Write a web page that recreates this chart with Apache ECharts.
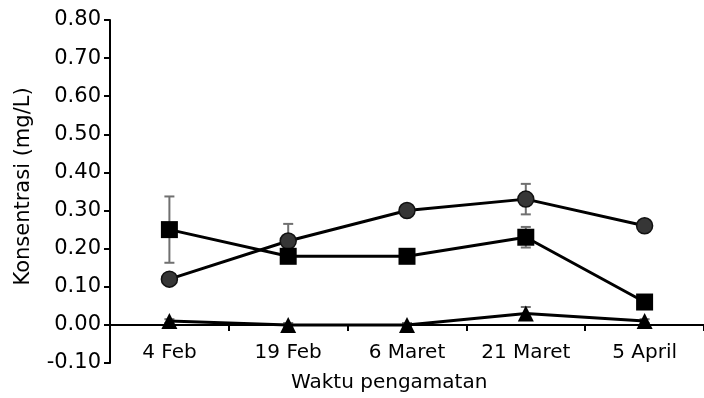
<!DOCTYPE html>
<html>
<head>
<meta charset="utf-8">
<script src="https://cdn.jsdelivr.net/npm/echarts@6/dist/echarts.min.js"></script>
<style>
  html, body { margin: 0; padding: 0; background: #fff; }
  #chart { width: 704px; height: 398px; }
</style>
</head>
<body>
<div id="chart"></div>
<script>
// Sampling dates
const categories = ['4 Feb', '19 Feb', '6 Maret', '21 Maret', '5 April'];

// Mean concentrations (mg/L)
const circleValues   = [0.12, 0.22, 0.30, 0.33, 0.26];
const squareValues   = [0.25, 0.18, 0.18, 0.23, 0.06];
const triangleValues = [0.01, 0.00, 0.00, 0.03, 0.01];

// Standard deviations for the error bars
const circleErr   = [0.01, 0.045, 0.01, 0.04, 0.01];
const squareErr   = [0.087, 0.01, 0.01, 0.027, 0.01];
const triangleErr = [0.005, 0.005, 0.005, 0.017, 0.005];

// Y axis ticks
const yMin = -0.10, yMax = 0.80, yStep = 0.10;

const FONT = 'DejaVu Sans';
const GRID_TOP = 20, GRID_BOTTOM = 35, HEIGHT = 398;

// Place the category axis on the zero line of the value axis
const plotH = HEIGHT - GRID_TOP - GRID_BOTTOM;
const zeroOffset = -plotH * (0 - yMin) / (yMax - yMin);

function errorData(vals, errs) {
  return vals.map((v, i) => [i, v - errs[i], v + errs[i]]);
}

function errorSeries(vals, errs) {
  return {
    type: 'custom',
    z: 1,
    silent: true,
    data: errorData(vals, errs),
    renderItem: function (params, api) {
      const x = api.value(0);
      const lo = api.coord([x, api.value(1)]);
      const hi = api.coord([x, api.value(2)]);
      const w = 5;
      const style = { stroke: '#707070', lineWidth: 2 };
      return {
        type: 'group',
        children: [
          { type: 'line', shape: { x1: lo[0], y1: lo[1], x2: hi[0], y2: hi[1] }, style },
          { type: 'line', shape: { x1: hi[0] - w, y1: hi[1], x2: hi[0] + w, y2: hi[1] }, style },
          { type: 'line', shape: { x1: lo[0] - w, y1: lo[1], x2: lo[0] + w, y2: lo[1] }, style }
        ]
      };
    }
  };
}

function lineSeries(vals, symbol, size, itemStyle) {
  return {
    type: 'line',
    z: 3,
    data: vals,
    symbol: symbol,
    symbolSize: size,
    showAllSymbol: true,
    lineStyle: { color: '#000', width: 3 },
    itemStyle: itemStyle,
    emphasis: { disabled: true }
  };
}

const chart = echarts.init(document.getElementById('chart'), null, { renderer: 'canvas' });
chart.setOption({
  animation: false,
  backgroundColor: '#fff',
  grid: { left: 110, top: GRID_TOP, width: 602, bottom: GRID_BOTTOM, containLabel: false },
  xAxis: {
    type: 'category',
    data: categories,
    boundaryGap: true,
    offset: zeroOffset,
    axisLine: { onZero: false, lineStyle: { color: '#000', width: 2 } },
    axisTick: { show: true, inside: false, length: 6, lineStyle: { color: '#000', width: 2 } },
    axisLabel: { color: '#000', fontFamily: FONT, fontSize: 20, margin: 18 },
    splitLine: { show: false }
  },
  yAxis: {
    type: 'value',
    min: yMin,
    max: yMax,
    interval: yStep,
    name: 'Konsentrasi (mg/L)',
    nameLocation: 'middle',
    nameGap: 76,
    nameTextStyle: { color: '#000', fontFamily: FONT, fontSize: 21, padding: [0, 0, 0, 10] },
    axisLine: { show: true, lineStyle: { color: '#000', width: 2 } },
    axisTick: { show: true, inside: false, length: 6, lineStyle: { color: '#000', width: 2 } },
    axisLabel: {
      color: '#000', fontFamily: FONT, fontSize: 21, margin: 9,
      formatter: v => v.toFixed(2)
    },
    splitLine: { show: false }
  },
  graphic: [{
    type: 'text',
    left: 291,
    top: 373,
    style: { text: 'Waktu pengamatan', fill: '#000', font: '20px "DejaVu Sans"' }
  }],
  series: [
    errorSeries(circleValues, circleErr),
    errorSeries(squareValues, squareErr),
    errorSeries(triangleValues, triangleErr),
    lineSeries(circleValues, 'circle', 16, { color: '#363636', borderColor: '#111', borderWidth: 1.5 }),
    lineSeries(squareValues, 'rect', 17, { color: '#000' }),
    lineSeries(triangleValues, 'triangle', 16, { color: '#000' })
  ]
});
</script>
</body>
</html>
